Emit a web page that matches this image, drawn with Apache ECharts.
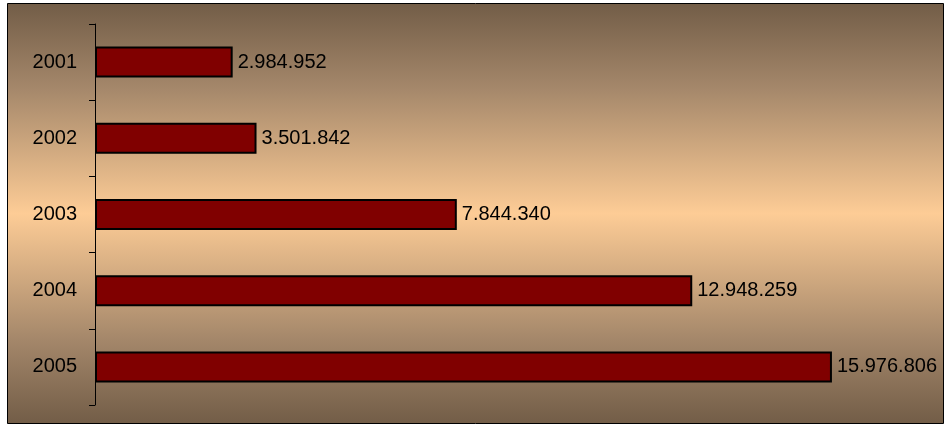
<!DOCTYPE html>
<html>
<head>
<meta charset="utf-8">
<script src="https://cdn.jsdelivr.net/npm/echarts@6/dist/echarts.min.js"></script>
<style>
  html, body { margin: 0; padding: 0; background: #fff; }
  #chart { width: 945px; height: 427px; }
</style>
</head>
<body>
<div id="chart"></div>
<script>
// data
var years = ['2001', '2002', '2003', '2004', '2005'];
var values = [2984952, 3501842, 7844340, 12948259, 15976806];

function fmt(v) {
	// dots as thousand separators
	return String(v).replace(/\B(?=(\d{3})+(?!\d))/g, '.');
}

var chart = echarts.init(document.getElementById('chart'));
chart.setOption({
	animation: false,
	graphic: [{
		type: 'rect',
		z: -10,
		shape: { x: 7.5, y: 3.5, width: 936, height: 420 },
		style: {
			fill: new echarts.graphic.LinearGradient(0, 0, 0, 1, [
				{ offset: 0, color: '#725d47' },
				{ offset: 0.2, color: '#a4876a' },
				{ offset: 0.5, color: '#fdcc96' },
				{ offset: 0.8, color: '#a4876a' },
				{ offset: 1, color: '#725d47' }
			]),
			stroke: '#000',
			lineWidth: 1
		}
	}],
	grid: {
		left: 95,
		top: 24,
		width: 738,
		height: 381,
		containLabel: false
	},
	xAxis: {
		type: 'value',
		min: 0,
		max: 16000000,
		show: false
	},
	yAxis: {
		type: 'category',
		inverse: true,
		data: years,
		axisLine: { show: true, lineStyle: { color: '#000', width: 1 } },
		axisTick: { show: true, length: 6, lineStyle: { color: '#000' } },
		axisLabel: {
			color: '#000',
			fontFamily: 'Liberation Sans, Arial, sans-serif',
			fontSize: 20,
			margin: 18
		},
		splitLine: { show: false }
	},
	series: [{
		type: 'bar',
		data: values,
		barWidth: 31,
		itemStyle: {
			color: '#800000',
			borderColor: '#000',
			borderWidth: 2
		},
		label: {
			show: true,
			position: 'right',
			distance: 5,
			color: '#000',
			fontFamily: 'Liberation Sans, Arial, sans-serif',
			fontSize: 20,
			formatter: function (p) { return fmt(p.value); }
		}
	}]
});
</script>
</body>
</html>
